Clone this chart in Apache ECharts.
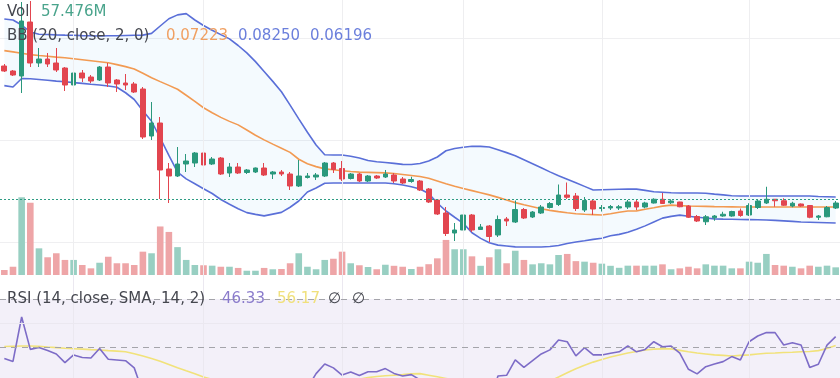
<!DOCTYPE html>
<html>
<head>
<meta charset="utf-8">
<title>BB / Vol / RSI</title>
<script src="https://cdn.jsdelivr.net/npm/echarts@6/dist/echarts.min.js"></script>
<style>
  html, body { margin: 0; padding: 0; background: #fff; }
  #chart { width: 840px; height: 378px; }
</style>
</head>
<body>
<div id="chart"></div>
<script>
// one entry per bar, left to right
var bars = [];
for (var n = 0; n < 97; n++) bars.push(n);

var opens = [
  0.1865, 0.1825, 0.1785, 0.2217, 0.1889, 0.1921, 0.1889, 0.1849, 0.1713, 0.1809,
  0.1777, 0.1753, 0.1857, 0.1753, 0.1729, 0.1721, 0.1681, 0.1305, 0.1409, 0.1041,
  0.0985, 0.1081, 0.1089, 0.1169, 0.1081, 0.1129, 0.1009, 0.1057, 0.1013, 0.1017,
  0.1049, 0.1001, 0.1017, 0.1001, 0.0905, 0.0973, 0.0977, 0.0985, 0.1089, 0.1045,
  0.0965, 0.1001, 0.0945, 0.0985, 0.0977, 0.0993, 0.0961, 0.0941, 0.0945, 0.0881,
  0.0793, 0.0689, 0.0529, 0.0553, 0.0673, 0.0557, 0.0585, 0.0513, 0.0641, 0.0617,
  0.0717, 0.0657, 0.0689, 0.0733, 0.0757, 0.0833, 0.0825, 0.0713, 0.0785, 0.0725,
  0.0729, 0.0729, 0.0737, 0.0777, 0.0737, 0.0769, 0.0799, 0.0771, 0.0777, 0.0745,
  0.0661, 0.0619, 0.0651, 0.0665, 0.0665, 0.0705, 0.0673, 0.0733, 0.0769, 0.0799,
  0.0787, 0.0745, 0.0761, 0.0749, 0.0655, 0.0659, 0.0729
];
var closes = [
  0.1825, 0.1793, 0.2225, 0.1889, 0.1921, 0.1881, 0.1833, 0.1713, 0.1809, 0.1769,
  0.1745, 0.1857, 0.1729, 0.1721, 0.1713, 0.1657, 0.1297, 0.1409, 0.1033, 0.0985,
  0.1081, 0.1105, 0.1169, 0.1073, 0.1121, 0.1001, 0.1057, 0.1009, 0.1033, 0.1049,
  0.0993, 0.1017, 0.1001, 0.0905, 0.0985, 0.0985, 0.0993, 0.1089, 0.1037, 0.0961,
  0.1001, 0.0945, 0.0985, 0.0969, 0.1001, 0.0945, 0.0929, 0.0957, 0.0873, 0.0777,
  0.0681, 0.0525, 0.0553, 0.0673, 0.0553, 0.0577, 0.0501, 0.0637, 0.0625, 0.0717,
  0.0649, 0.0697, 0.0737, 0.0765, 0.0833, 0.0815, 0.0725, 0.0789, 0.0721, 0.0733,
  0.0741, 0.0739, 0.0777, 0.0737, 0.0769, 0.0799, 0.0765, 0.0785, 0.0739, 0.0655,
  0.0625, 0.0659, 0.0665, 0.0679, 0.0701, 0.0669, 0.0749, 0.0785, 0.0799, 0.0787,
  0.0751, 0.0767, 0.0745, 0.0655, 0.0665, 0.0733, 0.0769
];
var highs = [
  0.1881, 0.1833, 0.2377, 0.2385, 0.2009, 0.1969, 0.2009, 0.1857, 0.1873, 0.1833,
  0.1793, 0.1865, 0.1889, 0.1761, 0.1801, 0.1737, 0.1697, 0.1577, 0.1457, 0.1089,
  0.1217, 0.1161, 0.1177, 0.1177, 0.1137, 0.1137, 0.1089, 0.1089, 0.1041, 0.1053,
  0.1089, 0.1025, 0.1033, 0.1017, 0.1113, 0.1009, 0.1009, 0.1097, 0.1097, 0.1105,
  0.1009, 0.1009, 0.0993, 0.0993, 0.1033, 0.1009, 0.0977, 0.0979, 0.0953, 0.0889,
  0.0801, 0.0737, 0.0609, 0.0693, 0.0681, 0.0601, 0.0593, 0.0669, 0.0657, 0.0789,
  0.0729, 0.0705, 0.0753, 0.0777, 0.0917, 0.0933, 0.0849, 0.0817, 0.0793, 0.0753,
  0.0753, 0.0753, 0.0793, 0.0793, 0.0779, 0.0807, 0.0849, 0.0799, 0.0779, 0.0753,
  0.0673, 0.0673, 0.0673, 0.0699, 0.0707, 0.0725, 0.0767, 0.0799, 0.0899, 0.0801,
  0.0807, 0.0779, 0.0765, 0.0753, 0.0673, 0.0745, 0.0785
];
var lows = [
  0.1817, 0.1785, 0.1649, 0.1857, 0.1857, 0.1857, 0.1817, 0.1665, 0.1705, 0.1737,
  0.1729, 0.1745, 0.1697, 0.1657, 0.1673, 0.1649, 0.1281, 0.1273, 0.0801, 0.0769,
  0.0977, 0.1017, 0.1057, 0.1049, 0.1073, 0.0993, 0.0977, 0.1001, 0.1001, 0.1009,
  0.0985, 0.0961, 0.0985, 0.0873, 0.0897, 0.0965, 0.0953, 0.0977, 0.1009, 0.0945,
  0.0957, 0.0937, 0.0937, 0.0961, 0.0969, 0.0929, 0.0921, 0.0931, 0.0865, 0.0769,
  0.0673, 0.0505, 0.0465, 0.0477, 0.0537, 0.0553, 0.0457, 0.0497, 0.0585, 0.0609,
  0.0641, 0.0649, 0.0681, 0.0725, 0.0745, 0.0801, 0.0705, 0.0697, 0.0673, 0.0701,
  0.0713, 0.0713, 0.0721, 0.0713, 0.0727, 0.0765, 0.0761, 0.0761, 0.0735, 0.0649,
  0.0617, 0.0593, 0.0627, 0.0659, 0.0659, 0.0659, 0.0665, 0.0721, 0.0761, 0.0739,
  0.0745, 0.0735, 0.0739, 0.0647, 0.0633, 0.0655, 0.0721
];
// volume, millions
var volumes = [
  37.5, 62, 583, 542, 200, 133, 163, 113, 113, 75,
  50, 92, 137, 88, 88, 75, 175, 163, 364, 323,
  209, 113, 75, 73, 70, 62, 62, 53, 32, 32,
  53, 43, 45, 88, 163, 62, 43, 113, 122, 175,
  88, 73, 60, 43, 77, 69, 62, 45, 62, 81,
  125, 263, 193, 193, 140, 69, 133, 193, 88, 182,
  113, 80, 88, 80, 150, 158, 104, 100, 92, 85,
  69, 54, 70, 70, 70, 70, 80, 43, 50, 62,
  50, 80, 70, 70, 50, 50, 100, 92, 158, 75,
  70, 62, 50, 70, 62, 70, 57.5
];
var bbUpper = [
  0.2241, 0.2233, 0.2193, 0.2137, 0.2119, 0.2117, 0.2114, 0.2112, 0.2111, 0.2108,
  0.2107, 0.2105, 0.2107, 0.2107, 0.2109, 0.2111, 0.2112, 0.2126, 0.2185, 0.2243,
  0.2274, 0.2284, 0.2233, 0.2189, 0.2151, 0.2116, 0.2082, 0.2029, 0.1970, 0.1900,
  0.1821, 0.1742, 0.1659, 0.1552, 0.1442, 0.1335, 0.1233, 0.1155, 0.1153, 0.1153,
  0.1143, 0.1129, 0.1109, 0.1099, 0.1093, 0.1086, 0.1078, 0.1077, 0.1085, 0.1105,
  0.1137, 0.1187, 0.1205, 0.1215, 0.1223, 0.1222, 0.1217, 0.1195, 0.1172, 0.1147,
  0.1115, 0.1083, 0.1051, 0.1018, 0.0987, 0.0959, 0.0931, 0.0902, 0.0873, 0.0875,
  0.0877, 0.0879, 0.0881, 0.0880, 0.0870, 0.0859, 0.0855, 0.0851, 0.0849, 0.0849,
  0.0849, 0.0847, 0.0840, 0.0834, 0.0827, 0.0825, 0.0825, 0.0825, 0.0825, 0.0825,
  0.0825, 0.0825, 0.0825, 0.0825, 0.0821, 0.0819, 0.0817
];
var bbBasis = [
  0.1988, 0.1978, 0.1967, 0.1956, 0.1949, 0.1943, 0.1936, 0.1931, 0.1923, 0.1915,
  0.1907, 0.1899, 0.1891, 0.1876, 0.1860, 0.1841, 0.1807, 0.1771, 0.1740, 0.1710,
  0.1679, 0.1631, 0.1582, 0.1531, 0.1491, 0.1454, 0.1422, 0.1394, 0.1353, 0.1311,
  0.1274, 0.1240, 0.1207, 0.1174, 0.1119, 0.1083, 0.1060, 0.1042, 0.1035, 0.1027,
  0.1021, 0.1016, 0.1014, 0.1012, 0.1010, 0.1005, 0.0997, 0.0989, 0.0981, 0.0967,
  0.0945, 0.0923, 0.0903, 0.0885, 0.0868, 0.0851, 0.0834, 0.0814, 0.0793, 0.0772,
  0.0755, 0.0739, 0.0723, 0.0710, 0.0700, 0.0691, 0.0683, 0.0679, 0.0676, 0.0673,
  0.0683, 0.0695, 0.0705, 0.0706, 0.0719, 0.0731, 0.0744, 0.0752, 0.0748, 0.0745,
  0.0743, 0.0742, 0.0740, 0.0739, 0.0738, 0.0737, 0.0737, 0.0737, 0.0737, 0.0737,
  0.0737, 0.0737, 0.0737, 0.0737, 0.0737, 0.0737, 0.0737
];
var bbLower = [
  0.1708, 0.1697, 0.1765, 0.1763, 0.1757, 0.1751, 0.1744, 0.1739, 0.1732, 0.1726,
  0.1719, 0.1713, 0.1705, 0.1695, 0.1651, 0.1597, 0.1507, 0.1423, 0.1289, 0.1150,
  0.1016, 0.0962, 0.0923, 0.0883, 0.0845, 0.0797, 0.0759, 0.0723, 0.0692, 0.0678,
  0.0666, 0.0680, 0.0694, 0.0735, 0.0785, 0.0857, 0.0889, 0.0927, 0.0929, 0.0929,
  0.0929, 0.0929, 0.0929, 0.0929, 0.0929, 0.0923, 0.0913, 0.0899, 0.0881, 0.0845,
  0.0768, 0.0705, 0.0655, 0.0606, 0.0531, 0.0486, 0.0451, 0.0432, 0.0425, 0.0418,
  0.0417, 0.0417, 0.0417, 0.0421, 0.0429, 0.0445, 0.0457, 0.0467, 0.0478, 0.0487,
  0.0507, 0.0518, 0.0535, 0.0559, 0.0586, 0.0617, 0.0648, 0.0662, 0.0672, 0.0663,
  0.0655, 0.0649, 0.0642, 0.0640, 0.0639, 0.0637, 0.0636, 0.0635, 0.0633, 0.0630,
  0.0626, 0.0622, 0.0617, 0.0615, 0.0613, 0.0611, 0.0609
];
var rsi = [
  45.2, 44.0, 62.5, 49.0, 49.8, 48.5, 47.1, 43.5, 46.7, 45.6,
  45.4, 49.4, 44.9, 44.6, 44.3, 41.3, 31, 34, 26, 25,
  30, 31, 33, 31, 32, 29, 30, 29.5, 30, 31,
  29, 30, 29.5, 27, 32, 33, 38.9, 42.9, 41.3, 38.3,
  39.6, 38.1, 39.7, 39.7, 41.0, 39.0, 37.9, 38.5, 36.3, 33,
  29, 24, 25, 30, 27, 28, 26, 37.9, 38.2, 44.6,
  41.5, 44.3, 47.1, 48.8, 52.9, 52.2, 46.3, 49.7, 46.7, 46.7,
  47.4, 48.0, 50.4, 48.0, 49.0, 52.2, 50.1, 50.4, 47.4, 40.7,
  38.8, 41.8, 42.9, 43.9, 46.0, 44.6, 52.2, 54.6, 56.0, 56.0,
  50.8, 51.8, 50.8, 41.5, 42.8, 50.8, 54.3
];
var rsiMa = [
  50.2, 50.3, 50.4, 50.4, 50.3, 50.0, 49.75, 49.5, 49.3, 49.1,
  48.9, 48.75, 48.5, 48.3, 48.0, 47.2, 46.25, 45.2, 44.1, 42.75,
  41.4, 40.1, 38.9, 37.5, 36.5, 35.6, 34.8, 34, 33.3, 32.7,
  32.2, 31.8, 31.5, 31.3, 31.4, 31.8, 32.5, 33.3, 34.2, 35,
  35.8, 36.6, 37.25, 37.7, 38.0, 38.25, 38.5, 38.8, 38.9, 38.25,
  37.6, 36.9, 36.2, 35.5, 34.8, 34.2, 33.7, 33.4, 33.3, 33.4,
  33.7, 34.2, 34.9, 35.8, 37.5, 39.25, 40.9, 42.4, 43.7, 44.75,
  45.8, 46.7, 47.5, 48.1, 48.75, 49.1, 49.2, 49.2, 48.6, 48.0,
  47.5, 47.1, 46.7, 46.5, 46.25, 46.5, 46.7, 47.1, 47.4, 47.5,
  47.7, 47.8, 48.0, 48.1, 48.5, 49.4, 50.6
];
// bars where the time grid lines fall
var gridBars = [8, 23, 39, 53, 69, 86];
var rsiLevels = [70, 50];
var legendVol = '57.476M';
var legendBB = ['0.07223', '0.08250', '0.06196'];
var legendRsi = ['46.33', '56.17'];

var upColor = '#2a987c', downColor = '#e2454f';
var upVol = '#98cfc2', downVol = '#eea5a7';
var bandColor = '#5a6fd8', basisColor = '#f29a52';
var textColor = '#45474f';
var font = '15px "DejaVu Sans", sans-serif';

var chart = echarts.init(document.getElementById('chart'));

var candles = bars.map(function (b, i) {
  return [opens[i], closes[i], lows[i], highs[i]];
});
var volData = volumes.map(function (v, i) {
  return { value: v, itemStyle: { color: closes[i] >= opens[i] ? upVol : downVol } };
});
// distance between bands, stacked on the lower band for the fill
var bandSpan = bbUpper.map(function (u, i) { return +(u - bbLower[i]).toFixed(4); });

var vLines = gridBars.map(function (b) { return { xAxis: b }; });
var gridLineStyle = { color: '#eeeef0', width: 1, type: 'solid' };

function label(x, y, s, color) {
  return {
    type: 'text', x: x, y: y, z: 100, silent: true,
    style: { text: s, fill: color, font: font, verticalAlign: 'middle' }
  };
}

function xAx(idx) {
  return { type: 'category', gridIndex: idx, data: bars, boundaryGap: true, show: false };
}

option = {
  animation: false,
  backgroundColor: '#fff',
  grid: [
    { left: -0.3, width: 845.8, top: 0, height: 275 },   // price
    { left: -0.3, width: 845.8, top: 175, height: 100 }, // volume
    { left: -0.3, width: 845.8, top: 275, height: 103 }, // rsi
    { left: -0.3, width: 845.8, top: 38, height: 204 }   // price grid lines
  ],
  xAxis: [xAx(0), xAx(1), xAx(2), xAx(3)],
  yAxis: [
    { type: 'value', gridIndex: 0, min: 0.0193, max: 0.2393, show: false },
    { type: 'value', gridIndex: 1, min: 0, max: 750, show: false },
    { type: 'value', gridIndex: 2, min: 37.083, max: 80, show: false },
    {
      type: 'value', gridIndex: 3, min: 0, max: 2, interval: 1,
      axisLine: { show: false }, axisTick: { show: false }, axisLabel: { show: false },
      splitLine: { show: true, lineStyle: { color: '#efeff1', width: 1 } }
    }
  ],
  series: [
    {
      name: 'bbBase', type: 'line', xAxisIndex: 0, yAxisIndex: 0,
      data: bbLower, stack: 'bb', symbol: 'none', silent: true, z: 1,
      lineStyle: { opacity: 0 },
      markLine: {
        silent: true, symbol: ['none', 'none'], label: { show: false },
        lineStyle: gridLineStyle, data: vLines
      }
    },
    {
      name: 'bbFill', type: 'line', xAxisIndex: 0, yAxisIndex: 0,
      data: bandSpan, stack: 'bb', symbol: 'none', silent: true, z: 1,
      lineStyle: { opacity: 0 },
      areaStyle: { color: 'rgba(33,150,243,0.07)' }
    },
    {
      name: 'Vol', type: 'bar', xAxisIndex: 1, yAxisIndex: 1,
      data: volData, barWidth: 6.6, z: 2
    },
    {
      name: 'Upper', type: 'line', xAxisIndex: 0, yAxisIndex: 0, data: bbUpper,
      symbol: 'none', z: 3, lineStyle: { color: bandColor, width: 1.6 }
    },
    {
      name: 'Lower', type: 'line', xAxisIndex: 0, yAxisIndex: 0, data: bbLower,
      symbol: 'none', z: 3, lineStyle: { color: bandColor, width: 1.6 }
    },
    {
      name: 'Basis', type: 'line', xAxisIndex: 0, yAxisIndex: 0, data: bbBasis,
      symbol: 'none', z: 3, lineStyle: { color: basisColor, width: 1.6 }
    },
    {
      name: 'Price', type: 'candlestick', xAxisIndex: 0, yAxisIndex: 0,
      data: candles, barWidth: 5.2, z: 4,
      itemStyle: {
        color: upColor, color0: downColor,
        borderColor: upColor, borderColor0: downColor, borderWidth: 1
      },
      markLine: {
        silent: true, symbol: ['none', 'none'], label: { show: false },
        lineStyle: { color: '#2f9c84', width: 1, type: [2, 2] },
        data: [{ yAxis: closes[closes.length - 1] }]
      }
    },
    {
      name: 'RSI MA', type: 'line', xAxisIndex: 2, yAxisIndex: 2, data: rsiMa,
      symbol: 'none', z: 3, lineStyle: { color: '#f1e27a', width: 1.6 },
      markArea: {
        silent: true,
        itemStyle: { color: 'rgba(126,87,194,0.09)' },
        data: [[{ yAxis: 70 }, { yAxis: 30 }]]
      },
      markLine: {
        silent: true, symbol: ['none', 'none'], label: { show: false },
        lineStyle: { color: '#ebe8f0', width: 1, type: 'solid' },
        data: vLines.concat([{ yAxis: 60 }])
      }
    },
    {
      name: 'RSI', type: 'line', xAxisIndex: 2, yAxisIndex: 2, data: rsi,
      symbol: 'none', z: 4, lineStyle: { color: '#7d6cc7', width: 1.6 },
      markLine: {
        silent: true, symbol: ['none', 'none'], label: { show: false },
        lineStyle: { color: '#a4a4aa', width: 1, type: [6, 5] },
        data: rsiLevels.map(function (v) { return { yAxis: v }; })
      }
    }
  ],
  graphic: [
    label(7, 12, 'Vol', textColor),
    label(41, 12, legendVol, '#4aa48c'),
    label(7, 36, 'BB (20, close, 2, 0)', textColor),
    label(166, 36, legendBB[0], '#f0a062'),
    label(238, 36, legendBB[1], '#6b7fdc'),
    label(310, 36, legendBB[2], '#6b7fdc'),
    label(7, 299, 'RSI (14, close, SMA, 14, 2)', textColor),
    label(222, 299, legendRsi[0], '#8a7bcb'),
    label(277, 299, legendRsi[1], '#f0e07c'),
    label(328, 299, '\u2205', textColor),
    label(352, 299, '\u2205', textColor)
  ]
};

chart.setOption(option);
</script>
</body>
</html>
